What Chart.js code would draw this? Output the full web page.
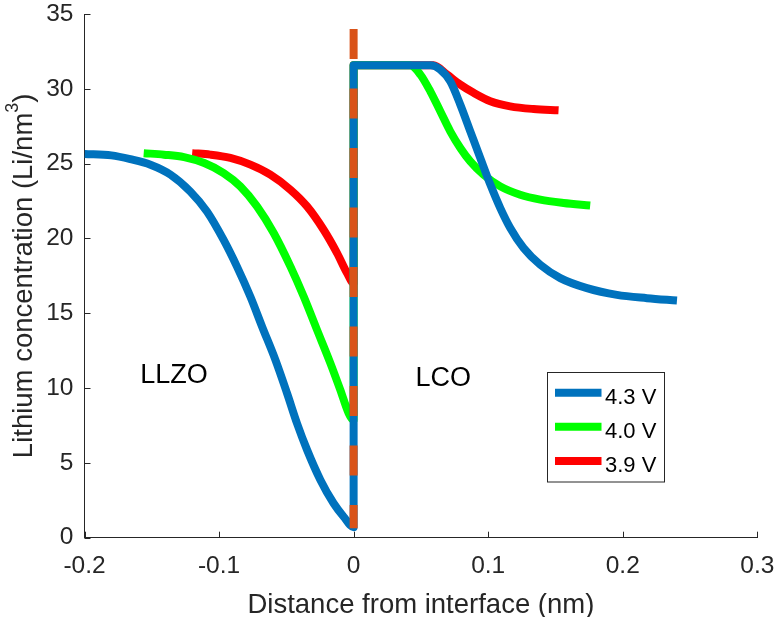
<!DOCTYPE html>
<html>
<head>
<meta charset="utf-8">
<script src="https://cdn.jsdelivr.net/npm/chart.js@4/dist/chart.umd.min.js"></script>
<style>
  html, body { margin: 0; padding: 0; background: #ffffff; }
  #wrap { width: 776px; height: 617px; }
</style>
</head>
<body>
<div id="wrap"><canvas id="c" width="776" height="617"></canvas></div>
<script>
// Axis ticks
const xTicks = [-0.2, -0.1, 0, 0.1, 0.2, 0.3];
const yTicks = [0, 5, 10, 15, 20, 25, 30, 35];

// Series names
const seriesLabels = ['4.3 V', '4.0 V', '3.9 V'];

// Lithium profile at 4.3 V (distance in nm, concentration in Li/nm^3)
const x43 = [-0.2, -0.18, -0.166, -0.151, -0.136, -0.1214, -0.109, -0.0966, -0.0866, -0.0767, -0.068,
             -0.0582, -0.0495, -0.0421, -0.0346, -0.0247, -0.0149, -0.0074, 0,
             0, 0.03, 0.057, 0.0644, 0.0718, 0.0793, 0.0867, 0.0941, 0.1016, 0.109, 0.1164,
             0.1263, 0.1387, 0.1536, 0.1734, 0.1957, 0.218, 0.2403];
const y43 = [25.65, 25.55, 25.3, 24.93, 24.26, 23.14, 21.8, 19.9, 18.1, 16.1, 14.1,
             11.9, 9.66, 7.65, 5.87, 3.86, 2.3, 1.4, 0.7,
             31.57, 31.57, 31.57, 31.28, 30.5, 28.94, 27.16, 25.38, 23.6, 22.03, 20.7,
             19.36, 18.24, 17.35, 16.68, 16.23, 16.01, 15.85];

// Lithium profile at 4.0 V
const x40 = [-0.156, -0.141, -0.126, -0.111, -0.0966, -0.0842, -0.0718, -0.0594, -0.047, -0.0371,
             -0.0272, -0.0173, -0.0099, -0.0037, 0,
             0, 0.02, 0.042, 0.0496, 0.057, 0.0644, 0.0718, 0.0793, 0.0867, 0.0966, 0.109,
             0.1238, 0.1387, 0.156, 0.1758];
const y40 = [25.7, 25.6, 25.44, 25.04, 24.37, 23.48, 22.14, 20.36, 18.13, 16.12,
             13.89, 11.67, 9.88, 8.32, 7.87,
             31.57, 31.57, 31.57, 30.95, 29.83, 28.5, 27.16, 26.05, 25.15, 24.26, 23.48,
             22.92, 22.59, 22.37, 22.2];

// Lithium profile at 3.9 V
const x39 = [-0.12, -0.1065, -0.0916, -0.0767, -0.0619, -0.047, -0.0346, -0.0223, -0.0123, -0.0049, 0,
             0, 0.03, 0.0594, 0.0694, 0.0793, 0.0892, 0.1016, 0.1164, 0.1337, 0.1523];
const y39 = [25.7, 25.6, 25.38, 24.93, 24.26, 23.26, 22.14, 20.58, 19.02, 17.69, 17.02,
             31.57, 31.57, 31.57, 30.95, 30.28, 29.73, 29.17, 28.83, 28.65, 28.56];

// Interface marker at x = 0
const interfaceX = [0, 0];
const interfaceY = [34.0, 0.63];

// Region names
const regionNames = ['LLZO', 'LCO'];

const FONT = '"Liberation Sans", Arial, Helvetica, sans-serif';
const AXIS_COLOR = '#262626';
const seriesColors = ['#0072BD', '#00FF00', '#FF0000'];
const interfaceColor = '#D95319';

// Where the region names sit, in data units (left / baseline)
const regionAnchors = [
  { x: -0.1585, y: 10.37 },
  { x: 0.0459, y: 10.15 }
];

const toPoints = (xs, ys) => xs.map((v, i) => ({ x: v, y: ys[i] }));
const fmt = v => String(Math.round(v * 10) / 10);

Chart.defaults.font.family = FONT;

// Ticks pointing into the plot area
const inwardTicks = {
  id: 'inwardTicks',
  beforeDatasetsDraw(chart) {
    const { ctx, chartArea: a, scales: { x, y } } = chart;
    ctx.save();
    ctx.strokeStyle = AXIS_COLOR;
    ctx.lineWidth = 1;
    ctx.beginPath();
    x.ticks.forEach(t => {
      const px = Math.round(x.getPixelForValue(t.value)) + 0.5;
      ctx.moveTo(px, a.bottom);
      ctx.lineTo(px, a.bottom - 6);
    });
    y.ticks.forEach(t => {
      const py = Math.round(y.getPixelForValue(t.value)) + 0.5;
      ctx.moveTo(a.left, py);
      ctx.lineTo(a.left + 6, py);
    });
    ctx.stroke();
    ctx.restore();
  }
};

// Axis titles, region names and the legend box
const decorations = {
  id: 'decorations',
  afterDraw(chart) {
    const { ctx, chartArea: a, scales: { x, y } } = chart;
    ctx.save();

    // x title
    ctx.fillStyle = AXIS_COLOR;
    ctx.font = '27.5px ' + FONT;
    ctx.textAlign = 'center';
    ctx.textBaseline = 'alphabetic';
    ctx.fillText('Distance from interface (nm)', (a.left + a.right) / 2, 613);

    // y title with superscript
    const main1 = 'Lithium concentration (Li/nm';
    const sup = '3';
    const main2 = ')';
    ctx.font = '27.5px ' + FONT;
    const w1 = ctx.measureText(main1).width;
    const w3 = ctx.measureText(main2).width;
    ctx.font = '18px ' + FONT;
    const w2 = ctx.measureText(sup).width;
    const total = w1 + w2 + w3;
    ctx.translate(31.5, (a.top + a.bottom) / 2);
    ctx.rotate(-Math.PI / 2);
    ctx.textAlign = 'left';
    let cx = -total / 2;
    ctx.font = '27.5px ' + FONT;
    ctx.fillText(main1, cx, 0);
    cx += w1;
    ctx.font = '18px ' + FONT;
    ctx.fillText(sup, cx, -14);
    cx += w2;
    ctx.font = '27.5px ' + FONT;
    ctx.fillText(main2, cx, 0);
    ctx.setTransform(1, 0, 0, 1, 0, 0);

    // region names
    ctx.fillStyle = '#000000';
    ctx.font = '27px ' + FONT;
    ctx.textAlign = 'left';
    regionNames.forEach((name, i) => {
      ctx.fillText(name, x.getPixelForValue(regionAnchors[i].x), y.getPixelForValue(regionAnchors[i].y));
    });

    // legend
    const bx = 547.5, by = 372.5, bw = 117, bh = 109.5;
    ctx.fillStyle = '#ffffff';
    ctx.fillRect(bx, by, bw, bh);
    ctx.strokeStyle = AXIS_COLOR;
    ctx.lineWidth = 1;
    ctx.strokeRect(bx, by, bw, bh);
    ctx.font = '22px ' + FONT;
    ctx.textBaseline = 'alphabetic';
    seriesLabels.forEach((lab, i) => {
      const cy = 392.7 + i * 34.15;
      ctx.strokeStyle = seriesColors[i];
      ctx.lineWidth = 8;
      ctx.beginPath();
      ctx.moveTo(555, cy);
      ctx.lineTo(601.5, cy);
      ctx.stroke();
      ctx.fillStyle = '#000000';
      ctx.fillText(lab, 605, cy + 10.8);
    });
    ctx.restore();
  }
};

const lineStyle = (color, order) => ({
  borderColor: color,
  backgroundColor: color,
  borderWidth: 8,
  pointRadius: 0,
  cubicInterpolationMode: 'monotone',
  fill: false,
  borderJoinStyle: 'round',
  borderCapStyle: 'butt',
  order: order
});

new Chart(document.getElementById('c'), {
  type: 'line',
  data: {
    datasets: [
      Object.assign({ label: seriesLabels[0], data: toPoints(x43, y43) }, lineStyle(seriesColors[0], 1)),
      Object.assign({ label: seriesLabels[1], data: toPoints(x40, y40) }, lineStyle(seriesColors[1], 2)),
      Object.assign({ label: seriesLabels[2], data: toPoints(x39, y39) }, lineStyle(seriesColors[2], 3)),
      {
        label: 'interface',
        data: toPoints(interfaceX, interfaceY),
        borderColor: interfaceColor,
        borderWidth: 8,
        borderDash: [30, 29.5],
        borderCapStyle: 'butt',
        pointRadius: 0,
        tension: 0,
        fill: false,
        order: 0
      }
    ]
  },
  options: {
    responsive: false,
    animation: false,
    devicePixelRatio: 1,
    layout: { padding: { top: 14, right: 18.7, left: 0, bottom: 0 } },
    plugins: { legend: { display: false }, tooltip: { enabled: false }, title: { display: false } },
    scales: {
      x: {
        type: 'linear',
        min: -0.2,
        max: 0.3,
        afterBuildTicks: s => { s.ticks = xTicks.map(v => ({ value: v })); },
        afterFit: s => { s.height = 79.3; s.paddingLeft = 0; s.paddingRight = 0; },
        ticks: {
          color: AXIS_COLOR,
          font: { size: 24.5 },
          padding: 14,
          maxRotation: 0,
          autoSkip: false,
          callback: v => fmt(v)
        },
        grid: { drawOnChartArea: false, drawTicks: false },
        border: { display: true, color: AXIS_COLOR, width: 1 }
      },
      y: {
        type: 'linear',
        min: 0,
        max: 35,
        afterBuildTicks: s => { s.ticks = yTicks.map(v => ({ value: v })); },
        afterFit: s => { s.width = 84.5; s.paddingTop = 0; s.paddingBottom = 0; },
        ticks: {
          color: AXIS_COLOR,
          font: { size: 24.5, lineHeight: 1 },
          padding: 11,
          autoSkip: false,
          callback: v => fmt(v)
        },
        grid: { drawOnChartArea: false, drawTicks: false },
        border: { display: true, color: AXIS_COLOR, width: 1 }
      }
    }
  },
  plugins: [inwardTicks, decorations]
});
</script>
</body>
</html>
